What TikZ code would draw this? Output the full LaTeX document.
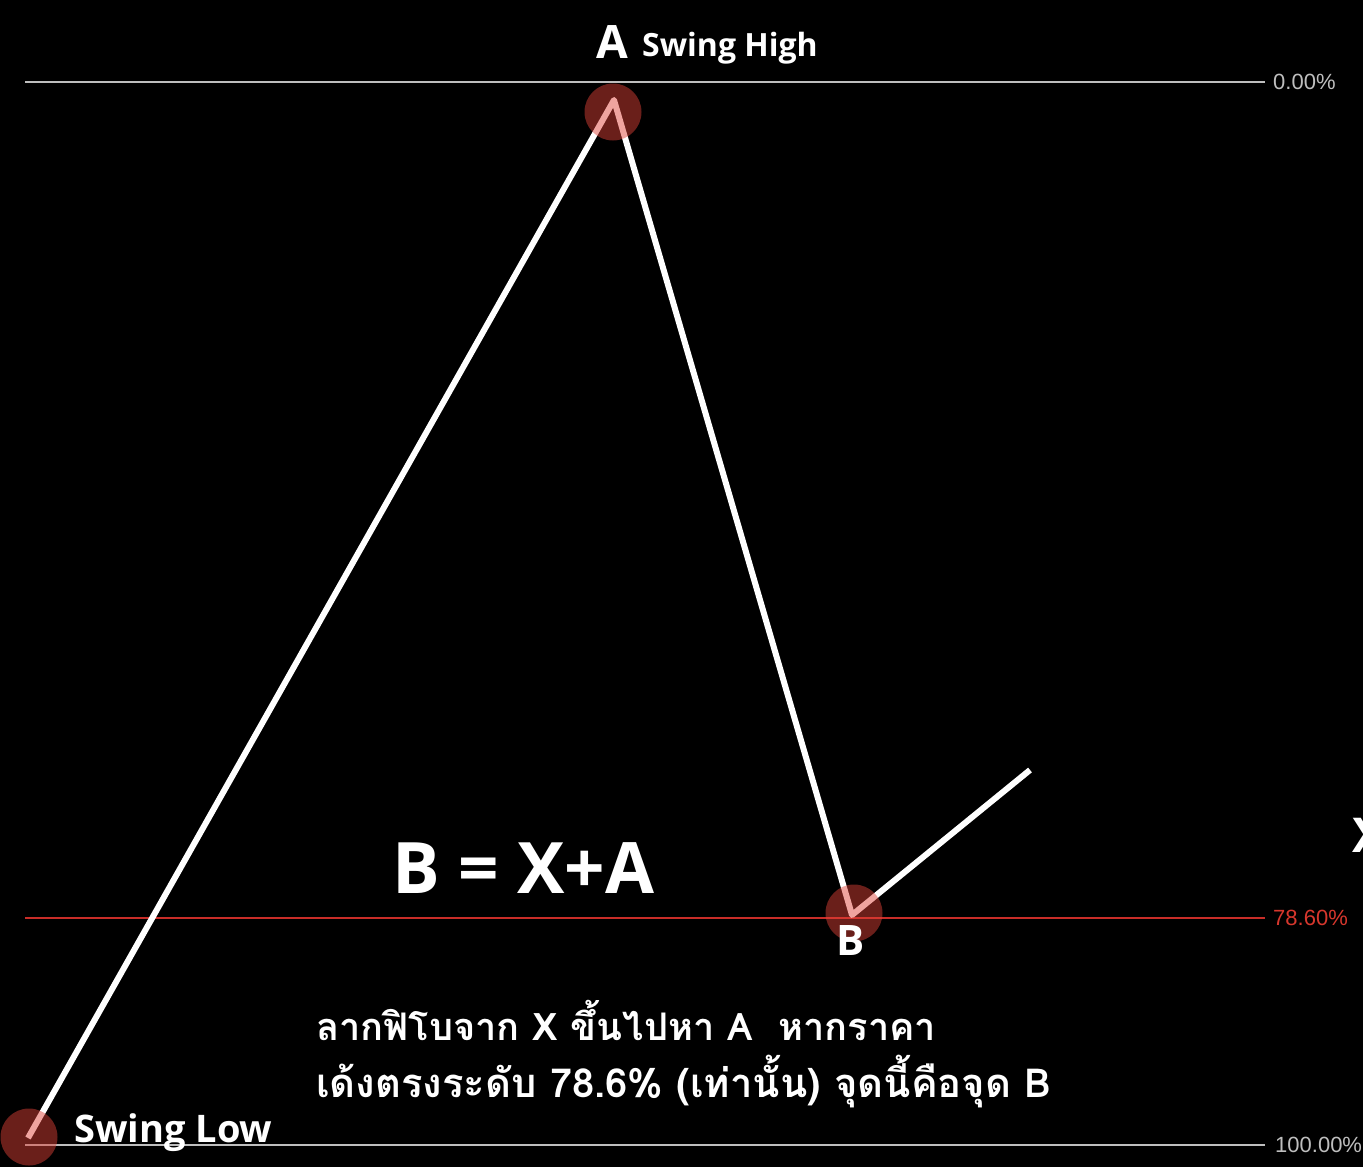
\documentclass[tikz,border=0pt]{standalone}
\usepackage{fontspec}
\setmainfont{Open Sans}
\newfontfamily\thaifont[Script=Thai]{Loma}
\newfontfamily\pctfont{Liberation Sans}
\definecolor{lvlgray}{RGB}{190,190,190}
\definecolor{lvlred}{RGB}{200,45,40}
\definecolor{pctred}{RGB}{215,55,45}
\definecolor{dotred}{RGB}{223,65,56}
\begin{document}
\begin{tikzpicture}[x=1pt,y=-1pt,
  lvl/.style={line width=2pt},
  pct/.style={anchor=west,inner sep=0pt,font=\pctfont\fontsize{22}{24}\selectfont},
  dot/.style={circle,fill=dotred,fill opacity=0.48,minimum size=57pt,inner sep=0pt},
  lbl/.style={text=white,inner sep=0pt}]
\fill[black] (0,0) rectangle (1363,1167);
\useasboundingbox (0,0) rectangle (1363,1167);
% level lines
\coordinate (L0s) at (25,82);   \coordinate (L0e) at (1265,82);
\coordinate (L1s) at (25,918);  \coordinate (L1e) at (1265,918);
\coordinate (L2s) at (25,1145); \coordinate (L2e) at (1265,1145);
\draw[lvl,lvlgray] (L0s) -- (L0e);
\draw[lvl,lvlred] (L1s) -- (L1e);
\draw[lvl,lvlgray] (L2s) -- (L2e);
\node[pct,text=lvlgray] (p0) at ([xshift=8pt]L0e) {0.00\%};
\node[pct,text=pctred] (p1) at ([xshift=8pt]L1e) {78.60\%};
\node[pct,text=lvlgray] (p2) at ([xshift=10pt]L2e) {100.00\%};
% price path
\coordinate (X) at (28,1138);
\coordinate (A) at (614,100);
\coordinate (B) at (852,915);
\coordinate (C) at (1030,770);
\draw[white,line width=6pt,line join=round] (X) -- (A) -- (B) -- (C);
% circles
\node[dot] (cX) at (29,1137) {};
\node[dot] (cA) at (613,112) {};
\node[dot] (cB) at (854,913) {};
% labels
\node[lbl,anchor=base west,font=\bfseries\fontsize{46}{50}\selectfont] (tA) at (596,58) {A};
\node[lbl,anchor=base west,font=\bfseries\fontsize{32}{35}\selectfont] (tSH) at (642,56) {Swing High};
\node[lbl,anchor=base west,font=\bfseries\fontsize{71}{80}\selectfont] (tEq) at (392,893) {B = X+A};
\node[lbl,anchor=base west,font=\bfseries\fontsize{42}{46}\selectfont] (tB) at (836,955) {B};
\node[lbl,anchor=base west,font=\bfseries\fontsize{38}{41}\selectfont] (tSL) at (74,1142) {Swing Low};
\node[lbl,anchor=base west,font=\bfseries\fontsize{48}{52}\selectfont] (tX) at (1352,852) {X};
\node[lbl,anchor=base west,font=\thaifont\bfseries\fontsize{38}{42}\selectfont] (th1) at (316,1040) {ลากฟิโบจาก X ขึ้นไปหา A\ \ หากราคา};
\node[lbl,anchor=base west,font=\thaifont\bfseries\fontsize{40}{44}\selectfont] (th2) at (316,1097) {เด้งตรงระดับ 78.6\% (เท่านั้น) จุดนี้คือจุด B};
\end{tikzpicture}
\end{document}
